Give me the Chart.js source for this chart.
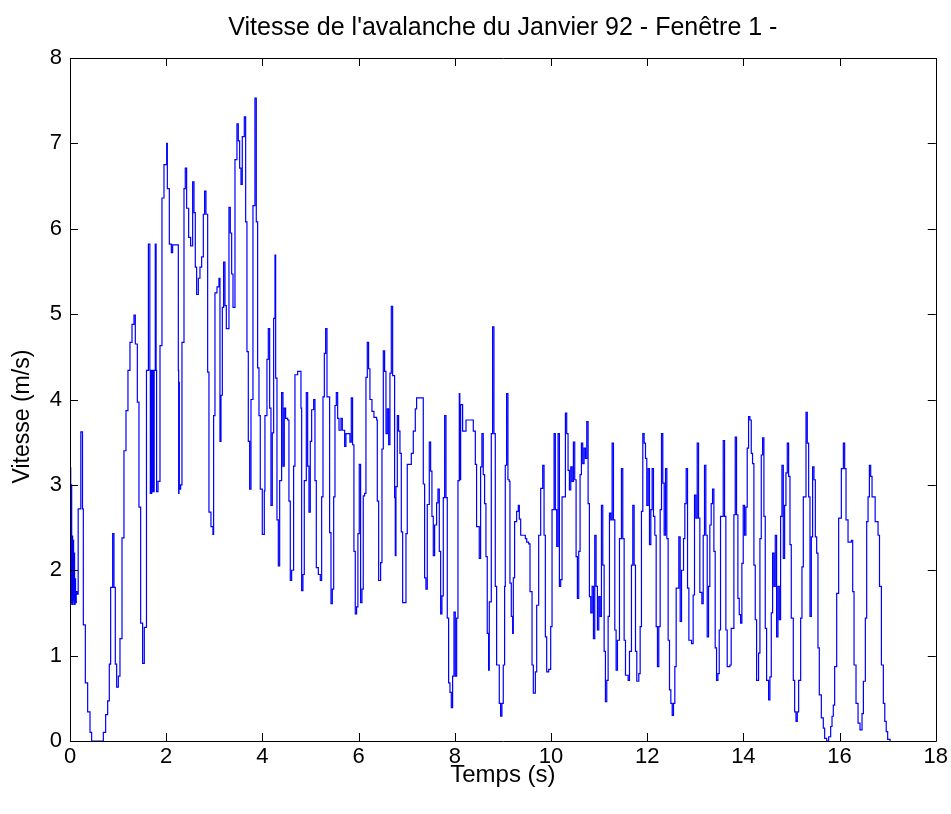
<!DOCTYPE html>
<html><head><meta charset="utf-8">
<script src="https://cdn.jsdelivr.net/npm/chart.js@4.4.1/dist/chart.umd.min.js"></script>
<style>html,body{margin:0;padding:0;background:#fff;}</style>
</head><body>
<canvas id="c" width="951" height="814"></canvas>
<script>
const titleText = "Vitesse de l'avalanche du Janvier 92 - Fenêtre 1 -";
const xAxisTitle = "Temps (s)";
const yAxisTitle = "Vitesse (m/s)";
const xTicks = [0, 2, 4, 6, 8, 10, 12, 14, 16, 18];
const yTicks = [0, 1, 2, 3, 4, 5, 6, 7, 8];

const times = [
0,0.005,0.015,0.025,0.035,0.045,0.055,0.065,0.075,0.085,0.095,0.105,0.115,0.13,0.15,0.17,0.225,0.26,0.277,0.319,0.367,0.416,0.45,0.68,0.693,0.741,0.783,0.817,0.845,0.887,0.914,0.942,0.97,1.005,1.039,1.081,1.122,1.164,1.205,1.247,1.289,1.33,1.358,1.4,1.434,1.469,1.51,1.545,
1.59,1.63,1.66,1.67,1.68,1.69,1.70,1.71,1.72,1.735,1.75,1.773,1.79,1.80,1.83,1.871,1.912,1.954,2.01,2.024,2.065,2.107,2.134,2.231,2.252,2.259,2.266,2.273,2.3,2.328,2.37,2.397,2.425,2.467,2.508,2.55,2.578,2.605,2.633,2.668,2.702,2.737,2.772,2.799,2.827,
2.862,2.889,2.931,2.972,2.986,3.014,3.056,3.097,3.118,3.139,3.167,3.194,3.222,3.25,3.305,3.333,3.361,3.389,3.43,3.471,3.499,3.527,3.555,3.582,3.624,3.652,3.679,3.707,3.735,3.763,3.804,3.845,3.873,3.901,3.929,3.956,3.998,4.04,4.053,4.095,4.123,4.151,4.178,4.206,4.234,4.262,4.276,4.303,4.331,4.359,4.4,4.428,4.455,4.483,4.525,4.552,4.58,4.608,4.649,4.677,4.733,4.774,4.802,4.816,4.843,4.871,4.913,4.941,4.968,4.996,5.024,5.066,5.093,5.121,5.163,5.204,5.232,5.26,5.288,5.315,5.343,5.385,5.398,5.426,5.454,5.482,5.509,5.537,5.565,5.593,5.634,5.662,
5.71,5.737,5.792,5.82,5.848,5.875,5.903,5.931,5.959,5.986,6.014,6.042,6.07,6.097,6.125,6.153,6.181,6.208,6.236,6.278,6.319,6.375,6.389,6.417,6.458,6.486,6.514,6.541,6.569,6.597,6.625,6.652,6.68,6.708,6.736,6.749,6.763,6.777,6.805,6.832,6.86,6.888,6.916,6.957,6.985,7.012,7.068,7.096,7.137,7.179,7.206,7.331,7.345,7.373,7.4,7.428,7.47,7.498,7.525,7.553,7.581,7.622,7.65,7.678,7.706,7.733,7.761,7.789,7.817,7.844,7.872,7.9,7.928,7.955,7.983,8.011,8.039,8.066,8.094,8.105,8.122,8.163,8.233,8.316,8.385,8.427,
8.453,8.495,8.509,8.537,8.564,8.592,8.62,8.648,8.675,8.703,8.717,8.745,8.759,8.786,8.814,8.842,8.87,8.911,8.925,8.953,8.98,9.008,9.036,9.05,9.078,9.105,9.133,9.147,9.175,9.203,9.217,9.244,9.286,9.321,9.342,9.37,9.467,9.495,9.536,9.564,9.606,9.633,9.675,9.703,9.744,9.786,9.828,9.856,9.883,9.911,9.953,9.994,10.022,10.064,10.091,10.119,10.147,10.175,10.202,10.23,10.258,10.3,10.327,10.355,10.383,10.411,10.438,10.466,10.494,10.522,10.549,10.577,10.605,10.633,10.66,10.688,10.716,10.744,10.772,10.799,10.827,10.855,10.883,10.91,10.938,10.966,10.994,11.021,11.049,11.077,11.105,11.132,11.16,11.188,11.216,11.243,11.271,11.299,11.327,11.354,11.382,11.424,11.465,11.493,11.521,11.549,11.604,11.632,11.673,11.701,11.729,11.757,11.784,11.826,11.854,11.881,11.909,11.937,11.965,11.992,12.02,12.048,12.076,12.103,12.131,12.159,12.187,12.214,12.242,12.27,12.298,12.325,12.353,12.381,12.409,12.436,12.464,12.492,12.52,12.547,12.575,12.603,12.631,12.658,12.686,12.714,12.756,12.783,12.811,12.839,12.867,12.922,12.956,
12.984,13.012,13.04,13.068,13.095,13.137,13.165,13.192,13.22,13.248,13.276,13.303,13.331,13.359,13.387,13.414,13.442,13.47,13.498,13.525,13.553,13.581,13.609,13.636,13.664,13.72,13.747,13.775,13.803,13.831,13.858,13.886,13.914,13.942,13.969,13.997,14.025,14.053,14.08,14.108,14.136,14.164,14.191,14.219,14.247,14.275,14.316,14.344,14.372,14.4,14.427,14.455,14.483,14.524,14.552,14.58,14.608,14.636,14.663,14.691,14.719,14.747,14.774,14.802,14.83,14.858,14.885,14.913,14.941,14.969,14.996,15.038,15.066,15.094,15.121,15.149,15.191,15.218,15.246,15.274,15.302,15.329,15.357,15.385,15.413,15.44,15.468,15.496,15.524,15.551,15.579,15.621,15.662,15.69,15.732,15.773,15.815,15.843,15.87,15.898,15.94,15.981,16.009,16.037,16.079,16.106,16.134,16.176,16.217,16.245,16.273,16.301,16.342,16.384,16.425,16.467,16.495,16.536,16.564,16.592,16.62,16.647,16.675,16.72,16.74,16.8,16.83,16.87,16.91,16.94,16.97,17.0,17.05
];

const speeds = [
0,3.2,1.6,3.0,1.62,2.4,1.6,2.35,1.65,2.2,1.6,1.9,1.62,1.75,1.72,2.72,3.62,2.72,1.36,0.68,0.34,0.1,0,0,0.1,0.31,0.47,0.9,1.8,2.43,1.8,0.9,0.63,0.76,1.2,2.38,3.4,3.87,4.34,4.67,4.88,4.99,4.65,3.97,2.74,1.38,0.91,1.33,
4.34,5.82,4.34,2.9,4.34,2.9,4.34,2.92,4.34,2.92,4.34,5.82,4.34,2.92,3.04,4.63,6.36,6.75,7.0,6.47,5.82,5.72,5.81,5.81,4.34,2.9,4.2,2.95,3.0,4.67,6.47,6.71,6.24,5.9,5.8,6.55,6.19,5.55,5.23,5.42,5.55,5.67,6.17,6.44,6.17,
4.32,2.68,2.51,2.42,3.81,5.25,5.32,5.42,3.51,4.05,5.08,5.61,5.1,4.83,6.25,5.95,5.47,5.08,6.81,7.23,7.03,6.71,6.52,7.08,7.31,6.08,4.56,3.51,2.95,4.0,6.27,7.53,6.08,4.37,3.81,2.95,2.42,2.93,3.81,4.47,4.83,3.9,2.76,3.61,4.95,5.69,4.25,2.59,2.05,3.05,4.08,3.22,3.9,3.78,3.76,2.81,1.88,2.0,3.22,4.29,4.33,4.33,3.9,1.76,1.95,3.05,4.08,3.22,2.68,3.51,3.88,4.0,3.05,2.03,1.95,1.88,2.86,4.03,4.54,4.83,4.03,4.03,2.44,1.61,1.78,2.86,3.93,4.08,3.78,3.64,3.78,3.64,
3.45,3.6,3.6,3.5,4.02,3.47,2.22,1.49,1.57,2.43,3.24,1.62,1.78,2.87,2.9,4.26,4.67,4.36,4.0,3.86,3.79,3.76,2.81,1.88,2.09,3.42,4.57,4.33,3.6,3.89,3.47,4.31,5.09,4.28,4.28,2.85,2.17,2.98,3.81,3.63,3.37,2.45,1.62,1.62,2.43,3.24,3.24,3.37,3.63,3.89,4.02,4.02,3.01,1.91,1.78,2.77,3.5,3.16,2.63,2.17,2.53,2.79,2.95,2.22,1.49,1.7,2.85,3.81,2.85,1.44,0.68,0.57,0.39,0.76,1.51,0.76,1.44,3.05,4.07,3.06,3.94,3.63,3.76,3.76,3.63,3.24,
2.51,2.51,2.14,3.21,3.6,3.12,2.78,2.16,1.26,0.83,1.63,1.63,3.6,4.85,3.6,1.81,0.89,0.89,0.44,0.29,0.44,0.89,1.81,3.23,4.07,3.06,3.04,1.85,1.46,1.26,1.91,2.57,2.69,2.76,2.6,2.41,2.37,2.33,2.31,1.75,0.89,0.56,0.81,1.59,2.41,2.96,3.23,2.41,1.22,0.81,0.84,1.34,2.71,3.6,2.71,2.28,3.6,1.81,1.89,2.86,2.86,3.84,3.6,3.17,2.94,3.21,3.04,3.5,3.06,2.16,1.67,2.22,3.12,3.49,3.25,3.43,3.31,3.74,2.78,1.69,1.5,1.81,1.2,2.41,1.81,1.3,1.69,1.46,2.76,2.06,1.05,0.46,0.71,1.46,2.67,2.59,3.49,2.59,1.3,0.83,1.18,2.37,3.19,2.37,1.18,0.77,0.71,1.05,2.06,2.76,2.06,1.05,0.7,0.79,1.34,2.69,3.6,3.49,3.31,2.76,3.19,2.3,2.71,3.19,2.63,2.41,1.34,0.87,1.34,2.71,3.6,3.02,2.41,3.19,2.37,1.18,0.6,0.44,0.3,0.44,0.87,1.79,1.79,2.39,1.4,2.0,2.37,2.78,3.19,1.79,1.18,1.14,1.71,
2.88,2.61,3.49,2.61,1.74,1.61,2.41,3.23,2.41,1.22,1.81,2.53,2.78,2.95,2.22,1.09,0.71,0.79,1.3,2.63,2.63,3.52,2.63,1.3,0.87,0.89,1.32,1.32,2.65,3.56,2.65,1.67,1.48,1.38,2.08,2.76,2.41,2.74,3.43,3.8,3.76,3.37,3.25,2.06,1.42,0.71,1.03,2.37,3.35,3.55,2.63,1.32,0.71,0.48,0.75,1.5,2.2,1.81,2.41,1.22,1.81,1.42,2.63,3.23,2.14,2.76,3.14,3.49,3.1,2.3,1.44,0.71,0.34,0.23,0.34,0.71,1.44,2.04,2.86,2.86,3.85,3.49,2.86,1.46,2.39,3.21,3.06,2.39,2.2,1.09,0.54,0.27,0.15,0.03,0,0.05,0.17,0.29,0.42,0.87,1.73,2.61,2.61,3.19,3.49,3.19,2.59,2.33,2.33,2.35,1.75,0.89,0.44,0.21,0.13,0.32,0.7,1.44,2.57,2.86,3.23,3.1,2.86,2.86,2.57,2.41,1.81,0.89,0.44,0.23,0.11,0.02,0
];

const points = times.map((t, i) => ({x: t, y: speeds[i]}));

const boxPlugin = {
  id: 'boxTicks',
  afterDatasetsDraw(chart) {
    const {ctx, chartArea: a, scales: {x, y}} = chart;
    const L = 8;
    ctx.save();
    ctx.strokeStyle = '#000';
    ctx.lineWidth = 1;
    ctx.beginPath();
    ctx.rect(Math.round(a.left) + 0.5, Math.round(a.top) + 0.5, Math.round(a.right - a.left), Math.round(a.bottom - a.top));
    x.ticks.forEach(t => {
      const px = Math.round(x.getPixelForValue(t.value)) + 0.5;
      ctx.moveTo(px, a.bottom); ctx.lineTo(px, a.bottom - L);
      ctx.moveTo(px, a.top); ctx.lineTo(px, a.top + L);
    });
    y.ticks.forEach(t => {
      const py = Math.round(y.getPixelForValue(t.value)) + 0.5;
      ctx.moveTo(a.left, py); ctx.lineTo(a.left + L, py);
      ctx.moveTo(a.right, py); ctx.lineTo(a.right - L, py);
    });
    ctx.stroke();
    // y axis label, placed like the reference (slightly below the axis centre)
    ctx.fillStyle = '#000';
    ctx.font = '23px "Liberation Sans", Arial, sans-serif';
    ctx.textAlign = 'center';
    ctx.textBaseline = 'middle';
    ctx.translate(23, y.getPixelForValue(3.8));
    ctx.rotate(-Math.PI / 2);
    ctx.fillText(yAxisTitle, 0, 0);
    ctx.restore();
  }
};

Chart.defaults.font.family = '"Liberation Sans", Arial, Helvetica, sans-serif';
Chart.defaults.color = '#000';

new Chart(document.getElementById('c'), {
  type: 'line',
  data: {
    datasets: [{
      data: points,
      borderColor: '#0000ff',
      borderWidth: 1.2,
      pointRadius: 0,
      stepped: true,
      tension: 0,
      fill: false
    }]
  },
  options: {
    responsive: false,
    animation: false,
    events: [],
    layout: { padding: { left: 0, right: 15, top: 0, bottom: 0 } },
    plugins: {
      legend: { display: false },
      tooltip: { enabled: false },
      title: {
        display: true,
        text: titleText,
        fullSize: false,
        color: '#000',
        font: { size: 25, weight: 'normal' },
        padding: { top: 13, bottom: 15 }
      }
    },
    scales: {
      x: {
        type: 'linear',
        min: 0, max: 18,
        afterBuildTicks: s => { s.ticks = xTicks.map(v => ({ value: v })); },
        afterFit: s => { s.height = 73; },
        grid: { display: false, drawTicks: false },
        border: { display: false },
        ticks: { autoSkip: false, maxRotation: 0, padding: 3, font: { size: 22 }, color: '#000' },
        title: { display: true, text: xAxisTitle, font: { size: 24 }, color: '#000', padding: { top: 0, bottom: 24 } }
      },
      y: {
        type: 'linear',
        min: 0, max: 8,
        afterBuildTicks: s => { s.ticks = yTicks.map(v => ({ value: v })); },
        afterFit: s => { s.width = 70; },
        grid: { display: false, drawTicks: false },
        border: { display: false },
        ticks: { padding: 8, font: { size: 22 }, color: '#000' },
        title: { display: false }
      }
    }
  },
  plugins: [boxPlugin]
});
</script>
</body></html>
